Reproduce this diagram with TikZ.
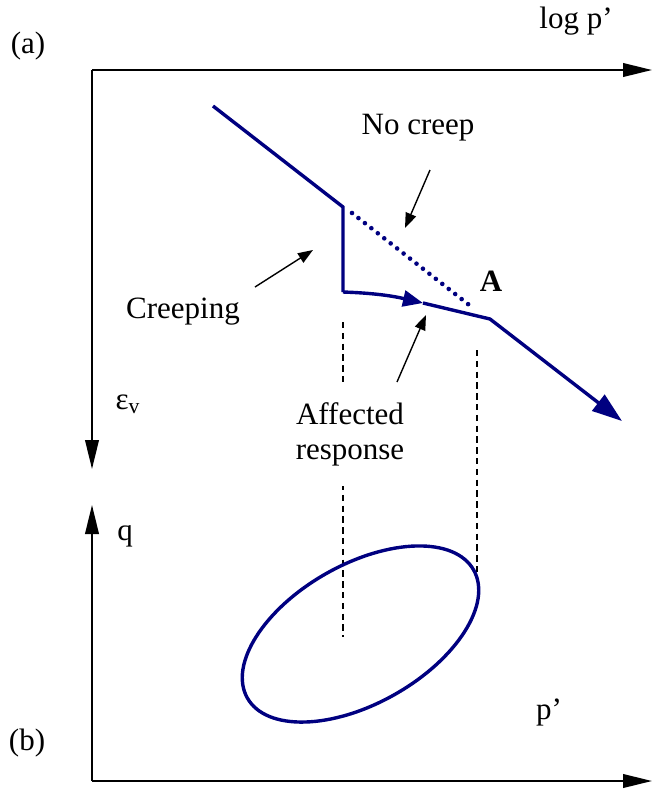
\documentclass[tikz,border=0pt]{standalone}
\usepackage{fontspec}
\setmainfont{Liberation Serif}
\usetikzlibrary{arrows.meta}
\definecolor{Ink}{HTML}{000000}
\definecolor{Navy}{HTML}{000080}
\tikzset{
  axis/.style={draw=Ink,line width=1pt,-{Triangle[length=14.5pt,width=6.8pt]}},
  curveline/.style={draw=Navy,line width=1.7pt,line join=miter},
  nocr/.style={draw=Navy,line width=2.3pt,line cap=round,dash pattern=on 0pt off 4.1pt},
  guide/.style={draw=Ink,line width=0.8pt,dash pattern=on 3.2pt off 2.2pt},
  ptr/.style={draw=Ink,line width=0.7pt,-{Triangle[length=7.5pt,width=5.5pt]}},
  lbl/.style={font=\fontsize{15.5}{17.5}\selectfont,text=Ink,inner sep=1pt},
}
\begin{document}
\begin{tikzpicture}[x=0.5pt,y=0.5pt]
\path[use as bounding box] (0,0) rectangle (652,-794);

% panel (a)
\node[lbl] (taga) at (28,-46) {(a)};
\node[lbl] (logp) at (576,-21) {log p’};
\node[lbl] (epsv) at (128,-404) {ε\textsubscript{v}};
\coordinate (oa) at (92,-70);
\coordinate (xa) at (652,-70);
\coordinate (ya) at (92,-469);
\draw[axis] (oa) -- (xa);
\draw[axis] (oa) -- (ya);

% panel (b)
\node[lbl] (tagb) at (27,-743) {(b)};
\node[lbl] (pp) at (549,-712) {p’};
\node[lbl] (qq) at (125,-536) {q};
\coordinate (ob) at (92,-781);
\coordinate (xb) at (652,-781);
\coordinate (yb) at (92,-505);
\draw[axis] (ob) -- (xb);
\draw[axis] (ob) -- (yb);

% guide lines and yield surface
\draw[guide] (343,-322) -- (343,-637);
\draw[guide] (477,-350) -- (477,-574);
\draw[draw=Navy,line width=1.7pt] (360.5,-634) ellipse[x radius=130,y radius=69.5,rotate=29.5];

% compression curve
\coordinate (s0) at (213,-106);
\coordinate (s1) at (343,-207);
\coordinate (s2) at (343,-292);
\coordinate (s3) at (423,-303);
\coordinate (ptA) at (490,-319);
\coordinate (s4) at (622,-421);
\draw[nocr] (352,-213) -- (473,-308);
\draw[curveline] (s0) -- (s1) -- (s2);
\draw[curveline,-{Triangle[length=10pt,width=8pt]}] (s2) to[out=-2,in=167] (s3);
\draw[curveline,-{Triangle[length=15pt,width=10pt]}] (s3) -- (ptA) -- (s4);
\node[lbl,font=\fontsize{15.5}{17.5}\selectfont\bfseries] (labA) at (491,-281) {A};

% annotations
\node[lbl] (nocreep) at (418,-128) {No creep};
\node[lbl] (creeping) at (183,-312) {Creeping};
\node[lbl,fill=white,align=center,minimum height=52pt,inner xsep=2pt] (affect) at (350,-434) {Affected\\response};
\coordinate (ncA) at (430,-170);
\coordinate (ncB) at (405,-228);
\coordinate (crA) at (255,-287);
\coordinate (crB) at (313,-250);
\coordinate (afA) at (397,-382);
\coordinate (afB) at (426,-315);
\draw[ptr] (ncA) -- (ncB);
\draw[ptr] (crA) -- (crB);
\draw[ptr] (afA) -- (afB);
\end{tikzpicture}
\end{document}
